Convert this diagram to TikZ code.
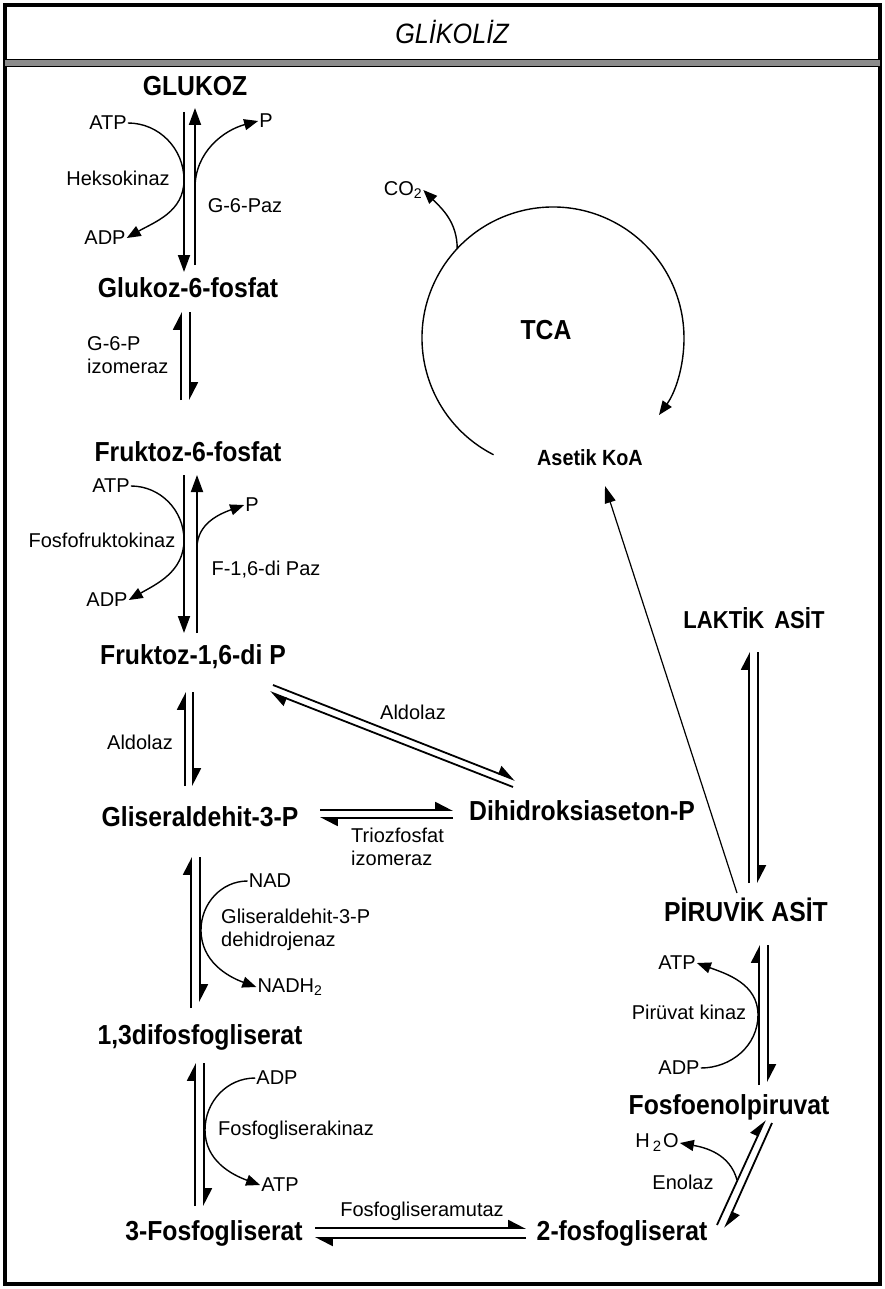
\documentclass[tikz,border=0pt]{standalone}
\usepackage{fontspec}
\setmainfont{Liberation Sans}
\newfontfamily\narrowsans[FakeStretch=0.9]{Liberation Sans}
\usetikzlibrary{arrows.meta}
\begin{document}
\begin{tikzpicture}[x=1pt,y=1pt,
  met/.style={font=\narrowsans\bfseries\fontsize{27.5}{30}\selectfont, inner sep=1pt},
  lbl/.style={font=\fontsize{20}{23}\selectfont, inner sep=1pt},
  ttl/.style={font=\narrowsans\itshape\fontsize{28}{30}\selectfont},
  rx/.style={line width=1.8pt},
  full/.style={rx, -{Triangle[length=17pt,width=12pt]}},
  harp/.style={rx, -{Triangle[harpoon,length=16pt,width=16pt]}},
  side/.style={line width=1.4pt, -{Triangle[length=14pt,width=11pt]}},
  thinarrow/.style={line width=1.2pt, -{Triangle[length=17pt,width=11pt]}}]

\useasboundingbox (0,0) rectangle (885,-1289);

% frame and title band
\draw[line width=4pt] (5,-5) rectangle (880,-1284);
\fill[black!45] (5,-60) rectangle (880,-66);
\draw[line width=1pt] (5,-60) -- (880,-60);
\draw[line width=1.2pt] (5,-66.5) -- (880,-66.5);
\node[ttl] (title) at (452,-32) {GLİKOLİZ};

% metabolites
\node[met] (glukoz) at (195,-86) {GLUKOZ};
\node[met] (g6p) at (188,-288) {Glukoz-6-fosfat};
\node[met] (f6p) at (188,-452) {Fruktoz-6-fosfat};
\node[met] (f16p) at (193,-657) {Fruktoz-1,6-di P};
\node[met] (g3p) at (200,-817) {Gliseraldehit-3-P};
\node[met] (dhap) at (582,-811) {Dihidroksiaseton-P};
\node[met] (bpg) at (200,-1037) {1,3difosfogliserat};
\node[met] (pg3) at (214,-1233) {3-Fosfogliserat};
\node[met] (pg2) at (622,-1233) {2-fosfogliserat};
\node[met] (pep) at (729,-1107) {Fosfoenolpiruvat};
\node[met] (pir) at (746,-910) {PİRUVİK ASİT};
\node[met, font=\narrowsans\bfseries\fontsize{24.5}{28}\selectfont] (lak) at (754,-618) {LAKTİK\hspace{10pt}ASİT};
\node[met] (tca) at (546,-330) {TCA};
\node[met, font=\narrowsans\bfseries\fontsize{22}{26}\selectfont] (acoa) at (590,-458) {Asetik KoA};
\node[lbl] (co2) at (403,-190) {CO\textsubscript{2}};

% enzyme and cofactor labels
\node[lbl] (atp1) at (108,-123) {ATP};
\node[lbl] (adp1) at (105,-238) {ADP};
\node[lbl] (hk) at (118,-178) {Heksokinaz};
\node[lbl] (p1) at (266,-121) {P};
\node[lbl] (g6paz) at (245,-206) {G-6-Paz};
\node[lbl, anchor=west, align=left] (gpi) at (86,-355) {G-6-P\\izomeraz};
\node[lbl] (atp2) at (111,-486) {ATP};
\node[lbl] (adp2) at (107,-600) {ADP};
\node[lbl] (pfk) at (102,-540) {Fosfofruktokinaz};
\node[lbl] (p2) at (252,-505) {P};
\node[lbl] (f16paz) at (266,-570) {F-1,6-di Paz};
\node[lbl] (ald1) at (140,-742) {Aldolaz};
\node[lbl] (ald2) at (413,-712) {Aldolaz};
\node[lbl, anchor=west, align=left] (tpi) at (350,-847) {Triozfosfat\\izomeraz};
\node[lbl] (nad) at (270,-881) {NAD};
\node[lbl] (nadh) at (290,-987) {NADH\textsubscript{2}};
\node[lbl, anchor=west, align=left] (gapdh) at (220,-930) {Gliseraldehit-3-P\\dehidrojenaz};
\node[lbl] (adp3) at (277,-1078) {ADP};
\node[lbl, anchor=west] (pgk) at (217,-1130) {Fosfogliserakinaz};
\node[lbl] (atp3) at (280,-1185) {ATP};
\node[lbl] (pgm) at (422,-1211) {Fosfogliseramutaz};
\node[lbl] (h2o) at (657,-1143) {H\hspace{3pt}\raisebox{-4pt}{\fontsize{15}{15}\selectfont 2}\hspace{2pt}O};
\node[lbl] (eno) at (683,-1182) {Enolaz};
\node[lbl] (atp4) at (677,-963) {ATP};
\node[lbl] (pk) at (689,-1012) {Pirüvat kinaz};
\node[lbl] (adp4) at (679,-1068) {ADP};

% reaction arrow end points
\coordinate (a1t) at (184,-112); \coordinate (a1b) at (184,-272);
\coordinate (b1b) at (195,-265); \coordinate (b1t) at (195,-108);
\coordinate (a2t) at (181,-312); \coordinate (a2b) at (181,-400);
\coordinate (b2t) at (190,-312); \coordinate (b2b) at (190,-400);
\coordinate (a3t) at (184,-475); \coordinate (a3b) at (184,-633);
\coordinate (b3b) at (197,-633); \coordinate (b3t) at (197,-475);
\coordinate (a4t) at (185,-692); \coordinate (a4b) at (185,-786);
\coordinate (b4t) at (193,-692); \coordinate (b4b) at (193,-786);
\coordinate (d1s) at (273,-685); \coordinate (d1e) at (515,-780);
\coordinate (d2s) at (513,-787); \coordinate (d2e) at (270,-692);
\coordinate (h1s) at (320,-810); \coordinate (h1e) at (453,-810);
\coordinate (h2s) at (453,-818); \coordinate (h2e) at (320,-818);
\coordinate (a5t) at (191,-857); \coordinate (a5b) at (191,-1008);
\coordinate (b5t) at (200,-857); \coordinate (b5b) at (200,-1002);
\coordinate (a6t) at (195,-1063); \coordinate (a6b) at (195,-1206);
\coordinate (b6t) at (204,-1063); \coordinate (b6b) at (204,-1206);
\coordinate (m1s) at (315,-1228); \coordinate (m1e) at (526,-1228);
\coordinate (m2s) at (526,-1238); \coordinate (m2e) at (315,-1238);
\coordinate (e1s) at (717,-1225); \coordinate (e1e) at (765,-1120);
\coordinate (e2s) at (772,-1123); \coordinate (e2e) at (725,-1228);
\coordinate (a7t) at (759,-945); \coordinate (a7b) at (759,-1085);
\coordinate (b7t) at (768,-945); \coordinate (b7b) at (768,-1082);
\coordinate (a8t) at (749,-652); \coordinate (a8b) at (749,-883);
\coordinate (b8t) at (758,-652); \coordinate (b8b) at (758,-883);
\coordinate (pirtop) at (737,-893); \coordinate (acoatip) at (605,-486);
\coordinate (tcac) at (553,-338);
\coordinate (co2s) at ([shift={(137:131)}]tcac);
\coordinate (enos) at (737,-1180);

% glucose <-> glucose-6-phosphate
\draw[full] (a1t) -- (a1b);
\draw[full] (b1b) -- (b1t);
\draw[side] (atp1.east) to[out=0,in=90] (184,-180) to[out=-90,in=30] (adp1.east);
\draw[side] (195,-188) to[out=90,in=195] (p1.west);

% glucose-6-phosphate <-> fructose-6-phosphate
\draw[harp] (a2b) -- (a2t);
\draw[harp] (b2t) -- (b2b);

% fructose-6-phosphate <-> fructose-1,6-bisphosphate
\draw[full] (a3t) -- (a3b);
\draw[full] (b3b) -- (b3t);
\draw[side] (atp2.east) to[out=0,in=90] (184,-540) to[out=-90,in=30] (adp2.east);
\draw[side] (197,-548) to[out=90,in=200] (p2.west);

% aldolase
\draw[harp] (a4b) -- (a4t);
\draw[harp] (b4t) -- (b4b);
\draw[harp] (d1s) -- (d1e);
\draw[harp] (d2s) -- (d2e);

% triose phosphate isomerase
\draw[harp] (h1s) -- (h1e);
\draw[harp] (h2s) -- (h2e);

% GAPDH
\draw[harp] (a5b) -- (a5t);
\draw[harp] (b5t) -- (b5b);
\draw[side] (nad.west) to[out=180,in=90] (201,-930) to[out=-90,in=160] (nadh.west);

% phosphoglycerate kinase
\draw[harp] (a6b) -- (a6t);
\draw[harp] (b6t) -- (b6b);
\draw[side] (adp3.west) to[out=180,in=90] (205,-1130) to[out=-90,in=160] (atp3.west);

% phosphoglycerate mutase
\draw[harp] (m1s) -- (m1e);
\draw[harp] (m2s) -- (m2e);

% enolase
\draw[harp] (e1s) -- (e1e);
\draw[harp] (e2s) -- (e2e);
\draw[side] (enos) to[out=105,in=-10] (h2o.east);

% pyruvate kinase
\draw[harp] (a7b) -- (a7t);
\draw[harp] (b7t) -- (b7b);
\draw[side] (adp4.east) to[out=0,in=-90] (758,-1015) to[out=90,in=-20] (atp4.east);

% lactate <-> pyruvate
\draw[harp] (a8b) -- (a8t);
\draw[harp] (b8t) -- (b8b);

% pyruvate -> acetyl CoA and TCA cycle
\draw[thinarrow] (pirtop) -- (acoatip);
\draw[side] ([shift={(243:131)}]tcac) arc[start angle=243,end angle=-36,radius=131];
\draw[side] (co2s) to[out=90,in=-45] (co2.east);
\end{tikzpicture}
\end{document}
